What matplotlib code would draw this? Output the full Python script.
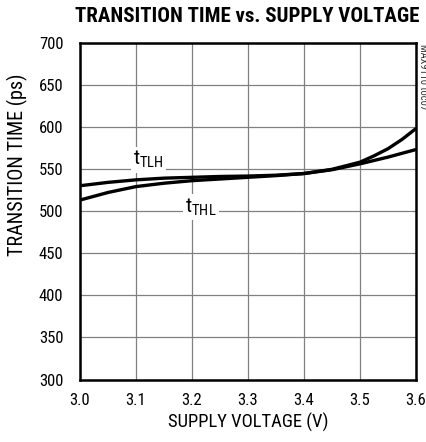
import numpy as np
import matplotlib.pyplot as plt

# supply voltage (V)
voltage = [3.0, 3.05, 3.1, 3.15, 3.2, 3.25, 3.3, 3.35, 3.4, 3.45, 3.5, 3.525, 3.55, 3.575, 3.6]
# transition times (ps)
t_tlh = [530, 534, 537, 539, 540, 541, 541.5, 542.5, 544.5, 549, 556, 560, 564, 568.5, 573]
t_thl = [513, 522, 529, 533, 536, 538, 540, 542, 544.5, 549.5, 558, 565.5, 574, 585, 598]

x_ticks = [3.0, 3.1, 3.2, 3.3, 3.4, 3.5, 3.6]
y_ticks = [300, 350, 400, 450, 500, 550, 600, 650, 700]

plt.rcParams['font.family'] = ['Roboto Condensed', 'Archivo Narrow', 'Liberation Sans', 'DejaVu Sans']
plt.rcParams['mathtext.fontset'] = 'custom'
plt.rcParams['mathtext.rm'] = 'Roboto Condensed'

fig = plt.figure(figsize=(4.27, 4.42), dpi=100)
ax = fig.add_axes([0.1874, 0.1414, 0.787, 0.7624])

ax.plot(voltage, t_tlh, color="black", lw=2.4, solid_capstyle="butt")
ax.plot(voltage, t_thl, color="black", lw=2.4, solid_capstyle="butt")

ax.set_xlim(3.0, 3.6)
ax.set_ylim(300, 700)
ax.set_xticks(x_ticks)
ax.set_xticklabels([f"{v:.1f}" for v in x_ticks])
ax.set_yticks(y_ticks)
ax.tick_params(axis="y", length=0, labelsize=12, pad=12)
ax.tick_params(axis="x", length=0, labelsize=12, pad=10)
ax.grid(True, color="#808080", lw=0.9)
ax.set_axisbelow(True)
for s in ax.spines.values():
    s.set_linewidth(1.8)

bbox = dict(facecolor="white", edgecolor="none", pad=1.5)
ax.text(3.095, 561, r"t$_{\mathregular{TLH}}$", fontsize=15, va="center", ha="left", bbox=bbox)
ax.text(3.188, 505, r"t$_{\mathregular{THL}}$", fontsize=15, va="center", ha="left", bbox=bbox)

ax.set_xlabel("SUPPLY VOLTAGE (V)", fontsize=13.4, labelpad=3)
ax.set_ylabel("TRANSITION TIME (ps)", fontsize=14.5, labelpad=8)
ax.yaxis.label.set_y(0.636)
fig.text(0.578, 0.985, "TRANSITION TIME vs. SUPPLY VOLTAGE", fontsize=15,
         fontweight="bold", ha="center", va="top")
fig.text(0.99, 0.9, "MAX9110 toc07", fontsize=7.5, rotation=270, ha="center", va="top",
         color="#303030")

fig.savefig("out.png", dpi=100)
